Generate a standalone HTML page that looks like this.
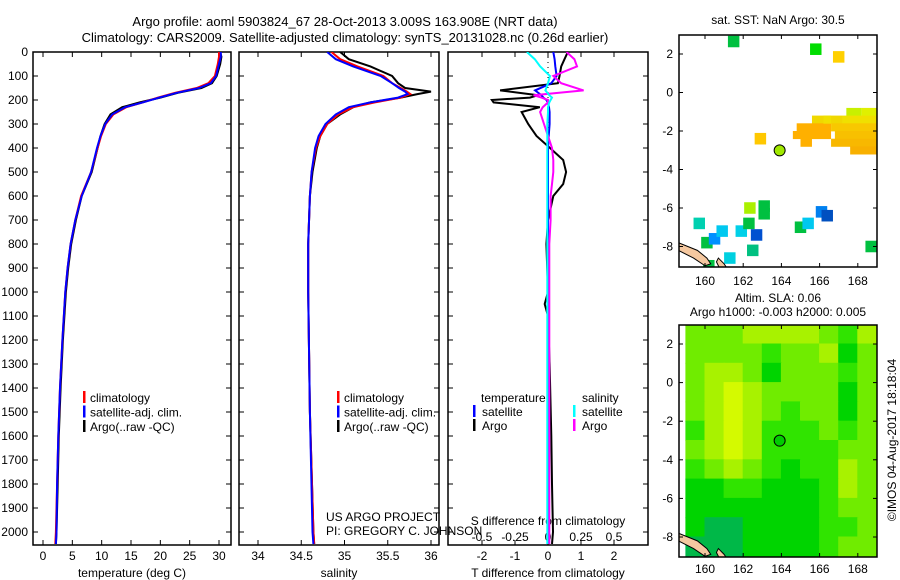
<!DOCTYPE html>
<html><head><meta charset="utf-8"><style>
body{margin:0;background:#fff;}
svg{display:block;font-family:"Liberation Sans",sans-serif;}
</style></head><body>
<svg id="c" width="900" height="580" xmlns="http://www.w3.org/2000/svg">
<defs>
<clipPath id="cp1"><rect x="33" y="52" width="198" height="493"/></clipPath>
<clipPath id="cp2"><rect x="239" y="52" width="200" height="493"/></clipPath>
<clipPath id="cp3"><rect x="448" y="52" width="200" height="493"/></clipPath>
<clipPath id="cm1"><rect x="679" y="35" width="198" height="232"/></clipPath>
<clipPath id="cm2"><rect x="679" y="325" width="198" height="232"/></clipPath>
</defs>
<text x="345" y="26" font-size="13" text-anchor="middle">Argo profile: aoml 5903824_67 28-Oct-2013 3.009S 163.908E (NRT data)</text>
<text x="345" y="42" font-size="13" text-anchor="middle">Climatology: CARS2009. Satellite-adjusted climatology: synTS_20131028.nc (0.26d earlier)</text>
<text x="778" y="24" font-size="12" text-anchor="middle">sat. SST: NaN Argo: 30.5</text>
<text x="778" y="302" font-size="12" text-anchor="middle">Altim. SLA: 0.06</text>
<text x="778" y="316" font-size="12" text-anchor="middle">Argo h1000: -0.003 h2000: 0.005</text>
<text transform="translate(896,440) rotate(-90)" font-size="12" text-anchor="middle">©IMOS 04-Aug-2017 18:18:04</text>
<text x="326" y="521" font-size="12">US ARGO PROJECT</text>
<text x="326" y="535" font-size="12">PI: GREGORY C. JOHNSON</text>
<g id="g"></g>
</svg>
<script>
// ---- profile data ----
const depthT=[0,20,50,100,130,150,170,190,210,230,260,300,350,400,500,600,700,800,900,1000,1200,1400,1600,1800,2000,2050];
const tempArgo=[30.2,30.4,30.2,29.6,28.8,27,23,20,16.5,13.5,11.5,10.5,9.8,9.3,8.3,6.6,5.6,4.8,4.3,3.9,3.4,3.0,2.7,2.5,2.3,2.2];
const tempClim=[30.0,30.0,29.8,29.3,28.2,26.2,22.5,19.6,17.0,14.2,12.0,10.7,9.9,9.3,8.2,6.5,5.5,4.7,4.2,3.8,3.3,2.9,2.6,2.4,2.2,2.1];
const tempSat=[30.3,30.3,30.0,29.5,28.6,26.6,22.8,19.8,17.0,14.0,11.8,10.6,9.8,9.2,8.2,6.6,5.5,4.7,4.2,3.8,3.3,2.9,2.6,2.4,2.3,2.2];
const depthS=[0,30,60,100,130,150,165,175,190,210,230,260,300,350,400,500,600,800,1000,1500,2000,2050];
const salArgo=[34.95,35.05,35.3,35.55,35.62,35.7,36.0,35.85,35.65,35.3,35.1,34.95,34.8,34.72,34.68,34.63,34.6,34.58,34.58,34.6,34.64,34.65];
const salClim=[34.85,34.95,35.15,35.45,35.55,35.65,35.72,35.76,35.65,35.35,35.1,34.93,34.8,34.72,34.67,34.62,34.6,34.58,34.58,34.6,34.64,34.65];
const salSat=[34.8,34.9,35.1,35.42,35.55,35.63,35.7,35.73,35.62,35.3,35.05,34.9,34.78,34.7,34.66,34.62,34.6,34.58,34.58,34.6,34.63,34.64];
const depthD=[0,30,60,100,130,160,180,190,200,210,230,250,300,350,400,450,500,550,600,700,800,1000,1050,1100,1300,1600,1800,2000,2050];
const dTArgo=[0.6,0.5,0.4,0.35,0.3,-1.45,-0.3,-0.55,-1.7,-1.65,-0.25,-0.8,-0.6,-0.35,0.06,0.46,0.55,0.46,0.16,0,-0.05,0,-0.1,0,0.05,0.1,0.12,0.15,0.12];
const dSArgo=[0.14,0.2,0.22,0.04,0.1,0.27,-0.11,-0.05,0,0,-0.04,-0.06,-0.03,0,0.03,0.04,0.04,0.03,0.02,0.02,0.01,0.01,0.01,0.01,0.01,0.01,0.01,0.01,0.01];
const dTSat=[0.16,0.2,0.22,0.26,0.1,-0.39,-0.2,-0.14,-0.05,0,0.03,0.05,0.05,0.02,0,0,0,0,0,0,0,0,0,0,0,0,0,0,0];
const dSSat=[-0.16,-0.1,-0.06,0.015,0,-0.02,0.01,0.03,0.02,0.01,0,0,-0.005,-0.005,-0.005,-0.005,-0.005,-0.005,-0.005,-0.005,-0.005,-0.005,-0.005,-0.005,-0.005,-0.005,-0.005,-0.005,-0.005];
// ---- map data ----
const sstLon=[161.5,165.8,167.0,162.9,162.35,163.1,163.1,159.7,160.1,160.5,160.9,161.9,162.3,162.7,162.5,161.3,165.0,165.4,166.1,166.4,168.7,160.2];
const sstLat=[2.65,2.25,1.85,-2.4,-6.0,-5.9,-6.3,-6.8,-7.8,-7.6,-7.2,-7.2,-6.8,-7.4,-8.2,-8.6,-7.0,-6.8,-6.2,-6.4,-8.0,-9.0];
const sstCol=["#00c040","#00dd00","#ffd000","#ffc800","#aaf000","#00c040","#00c040","#00d0b0","#00c040","#0090ff","#00c8f0","#00d0e8","#00c040","#0050d0","#00c080","#00d0e0","#00c040","#00c8f0","#0080f0","#0050c0","#00c040","#00c040"];
const clusterLat=[-1.0,-1.0,-1.4,-1.4,-1.8,-1.8,-2.2,-2.2,-2.6,-2.6,-3.0,-1.4];
const clusterLon0=[167.4,168.2,165.6,167.2,164.8,166.6,164.6,166.8,165.0,166.6,167.6,166.2];
const clusterLon1=[168.2,169.2,167.2,169.2,166.6,169.2,166.6,169.2,165.6,169.2,169.2,166.6];
const clusterCol=["#c8f000","#e0f000","#f0d800","#f0e000","#ffb000","#f8c800","#ffb000","#f8c000","#ffb000","#f8b800","#f8b000","#f0e000"];
const slaGrid=["3334444324","3333233413","3443133323","3454333313","3454323313","2454222323","3454222233","2343212243","1122111243","1111111233","1001111223","0001111233"];
const slaCols=["#00b848","#00d400","#30e400","#70ec00","#a8f200","#d4fa00"];

const NS="http://www.w3.org/2000/svg";
const G=document.getElementById('g');
function mk(tag,at,par){const e=document.createElementNS(NS,tag);for(const k in at)e.setAttribute(k,at[k]);(par||G).appendChild(e);return e;}
function txt(x,y,s,anchor,size,par){const t=mk('text',{x:x,y:y,'font-size':size||12,'text-anchor':anchor||'middle'},par);t.textContent=s;return t;}
const yD=d=>52+d*0.24;
const xT=t=>43+t*5.867;
const xS=s=>258+(s-34)*86.5;
const xDT=t=>548+t*33;
const xDS=s=>548+s*132;
const mx=l=>705+(l-160)*19.1;
const my1=l=>54+(2-l)*19.25;
const my2=l=>344+(2-l)*19.3;

function line(xs,ds,fx,col,clip,name){
  let p='';for(let i=0;i<xs.length;i++)p+=(i?'L':'M')+fx(xs[i]).toFixed(1)+','+yD(ds[i]).toFixed(1);
  const e=mk('path',{d:p,fill:'none',stroke:col,'stroke-width':2,'clip-path':'url(#'+clip+')'});
  
  
}
function panel(x0,w,name){
  const r=mk('rect',{x:x0,y:52,width:w,height:493,fill:'none',stroke:'#000','stroke-width':1.5});
  
  
  for(let d=0;d<=2000;d+=100){mk('line',{x1:x0,x2:x0+5,y1:yD(d),y2:yD(d),stroke:'#000'});mk('line',{x1:x0+w-5,x2:x0+w,y1:yD(d),y2:yD(d),stroke:'#000'});}
}
// panel 1
panel(33,198,'temperature-panel');
for(let d=0;d<=2000;d+=100){const t=txt(28,yD(d)+4,String(d),'end',12);}
for(let t=0;t<=30;t+=5){mk('line',{x1:xT(t),x2:xT(t),y1:52,y2:57,stroke:'#000'});mk('line',{x1:xT(t),x2:xT(t),y1:540,y2:545,stroke:'#000'});const e=txt(xT(t),560,String(t));}
const xl1=txt(132,577,'temperature (deg C)');
line(tempArgo,depthT,xT,'#000','cp1','temp-argo-line');
line(tempClim,depthT,xT,'#f00','cp1','temp-clim-line');
line(tempSat,depthT,xT,'#00f','cp1','temp-sat-line');
// panel 2
panel(239,200,'salinity-panel');
[34,34.5,35,35.5,36].forEach(s=>{mk('line',{x1:xS(s),x2:xS(s),y1:52,y2:57,stroke:'#000'});mk('line',{x1:xS(s),x2:xS(s),y1:540,y2:545,stroke:'#000'});const e=txt(xS(s),560,String(s));});
const xl2=txt(339,577,'salinity');
line(salArgo,depthS,xS,'#000','cp2','sal-argo-line');
line(salClim,depthS,xS,'#f00','cp2','sal-clim-line');
line(salSat,depthS,xS,'#00f','cp2','sal-sat-line');
// legends 1 & 2
[[83,90],[337,344]].forEach(([bx,tx],k)=>{
  [['climatology','#f00'],['satellite-adj. clim.','#00f'],['Argo(..raw -QC)','#000']].forEach(([l,c],i)=>{
    const y=398+i*14.5;
    mk('rect',{x:bx,y:y-7,width:2.5,height:12,fill:c});
    const e=txt(tx,y+4,l,'start',12);
  });
});
// panel 3
panel(448,200,'difference-panel');
mk('line',{x1:548,x2:548,y1:52,y2:545,stroke:'#000','stroke-dasharray':'1,4'});
[-2,-1,0,1,2].forEach(t=>{mk('line',{x1:xDT(t),x2:xDT(t),y1:52,y2:57,stroke:'#000'});mk('line',{x1:xDT(t),x2:xDT(t),y1:540,y2:545,stroke:'#000'});const e=txt(xDT(t),560,String(t));});
[-0.5,-0.25,0,0.25,0.5].forEach(s=>{const e=txt(xDS(s),541,String(s));});
const sl=txt(548,525,'S difference from climatology');
const tl=txt(548,577,'T difference from climatology');
line(dTArgo,depthD,xDT,'#000','cp3','tdiff-argo-line');
line(dTSat,depthD,xDT,'#00f','cp3','tdiff-sat-line');
line(dSArgo,depthD,xDS,'#f0f','cp3','sdiff-argo-line');
line(dSSat,depthD,xDS,'#0ff','cp3','sdiff-sat-line');
[[481,'temperature',null],[482,'satellite','#00f'],[482,'Argo','#000']].forEach(([x,l,c],i)=>{const y=402+i*14;if(c)mk('rect',{x:473,y:y-11,width:2.5,height:12,fill:c});const e=txt(x,y,l,'start',12);});
[[582,'salinity',null],[582,'satellite','#0ff'],[582,'Argo','#f0f']].forEach(([x,l,c],i)=>{const y=402+i*14;if(c)mk('rect',{x:573,y:y-11,width:2.5,height:12,fill:c});const e=txt(x,y,l,'start',12);});

// maps
function land(my,clip){
  const p=mk('path',{d:`M${mx(158.6)},${my(-7.8)} L${mx(159.6)},${my(-8.2)} L${mx(160.1)},${my(-8.6)} L${mx(160.3)},${my(-8.9)} L${mx(160.0)},${my(-9.0)} L${mx(159.4)},${my(-8.6)} L${mx(158.6)},${my(-8.2)}Z M${mx(160.7)},${my(-8.6)} L${mx(161.0)},${my(-8.9)} L${mx(161.2)},${my(-9.2)} L${mx(160.8)},${my(-9.2)} L${mx(160.6)},${my(-8.8)}Z`,fill:'#f5c8a0',stroke:'#000','stroke-width':1,'clip-path':'url(#'+clip+')'});
  
  
}
function mapAxes(my,y0,xlabY,name){
  const r=mk('rect',{x:679,y:y0,width:198,height:232,fill:'none',stroke:'#000','stroke-width':1.5});
  
  
  [160,162,164,166,168].forEach(l=>{mk('line',{x1:mx(l),x2:mx(l),y1:y0,y2:y0+4,stroke:'#000'});mk('line',{x1:mx(l),x2:mx(l),y1:y0+228,y2:y0+232,stroke:'#000'});const e=txt(mx(l),xlabY,String(l));});
  [2,0,-2,-4,-6,-8].forEach(l=>{mk('line',{x1:679,x2:683,y1:my(l),y2:my(l),stroke:'#000'});mk('line',{x1:873,x2:877,y1:my(l),y2:my(l),stroke:'#000'});const e=txt(673,my(l)+4,String(l),'end');});
}
// map1 SST
for(let i=0;i<clusterLat.length;i++){
  const c=mk('rect',{x:mx(clusterLon0[i]),y:my1(clusterLat[i]+0.2),width:mx(clusterLon1[i])-mx(clusterLon0[i]),height:0.42*19.25,fill:clusterCol[i],'clip-path':'url(#cm1)'});
  
  
}
for(let i=0;i<sstLon.length;i++){
  const c=mk('rect',{x:mx(sstLon[i]-0.3),y:my1(sstLat[i]+0.3),width:0.6*19.1,height:0.6*19.25,fill:sstCol[i],'clip-path':'url(#cm1)'});
  
  
}
land(my1,'cm1');
const a1=mk('circle',{cx:mx(163.908),cy:my1(-3.009),r:5.5,fill:'#a0e800',stroke:'#000'});


mapAxes(my1,35,285,'sst-map');
// map2 SLA
for(let r=0;r<slaGrid.length;r++)for(let c=0;c<10;c++){
  const v=+slaGrid[r][c];
  const e=mk('rect',{x:mx(159+c)-0.5,y:my2(3-r)-0.5,width:20.1,height:20.3,fill:slaCols[v],'clip-path':'url(#cm2)'});
  
  
}
land(my2,'cm2');
const a2=mk('circle',{cx:mx(163.908),cy:my2(-3.009),r:5.5,fill:'#00cc00',stroke:'#000'});


mapAxes(my2,325,573,'sla-map');
</script>
</body></html>
